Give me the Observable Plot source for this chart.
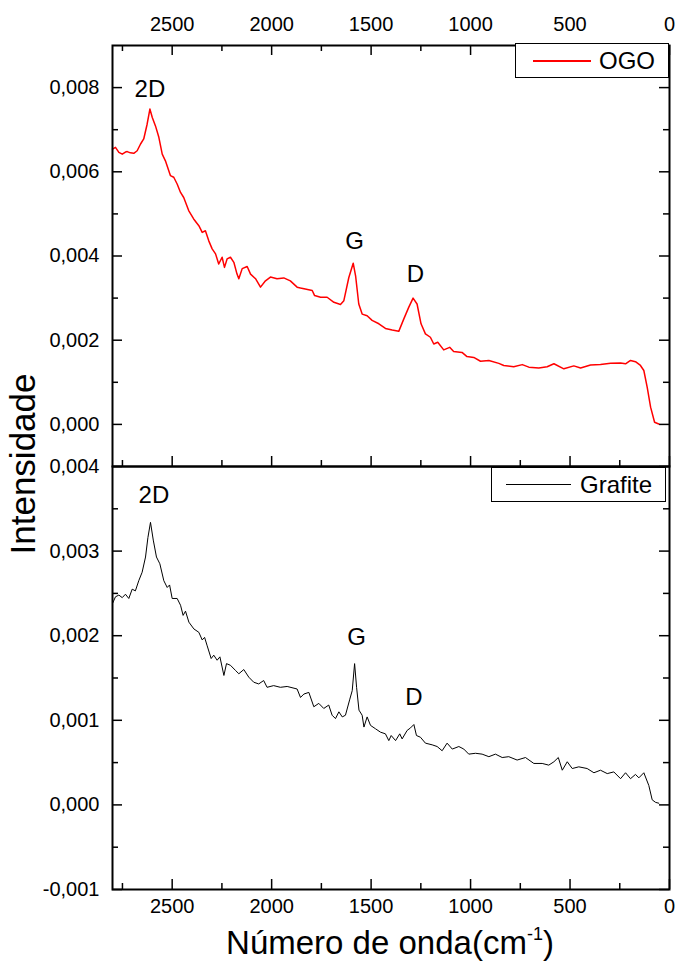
<!DOCTYPE html>
<html><head><meta charset="utf-8">
<script src="https://cdn.jsdelivr.net/npm/d3@7"></script>
<script src="https://cdn.jsdelivr.net/npm/@observablehq/plot@0.6"></script>
<style>
html,body{margin:0;padding:0;background:#fff;}
#wrap{position:relative;width:677px;height:980px;font-family:Arial,"Liberation Sans",sans-serif;color:#000;overflow:hidden;}
#wrap svg{position:absolute;left:0;overflow:visible;}
.legend{position:absolute;background:#fff;border:1px solid #000;box-sizing:border-box;}
.legend .ln{position:absolute;}
.legend .lt{position:absolute;font-size:24px;line-height:24px;white-space:nowrap;}
#xt{position:absolute;left:390px;top:926px;transform:translateX(-50%);font-size:33px;line-height:33px;white-space:nowrap;}
#xt sup{font-size:18px;line-height:0;vertical-align:14px;}
#yt{position:absolute;left:22px;top:464px;transform:translate(-50%,-50%) rotate(-90deg);font-size:35px;line-height:35px;white-space:nowrap;}
</style>
</head><body><div id="wrap"></div>
<script>
// ---- data (wavenumber cm^-1, intensity) ----
const ogoSpectrum = [
[2800,0.00654],[2785,0.00658],[2768,0.00646],[2751,0.00642],[2735,0.00647],[2726,0.00648],[2710,0.00645],[2693,0.00644],[2676,0.0065],[2659,0.00666],[2643,0.00678],[2626,0.00713],[2612,0.00749],[2600,0.00729],[2584,0.00709],[2567,0.00682],[2550,0.00642],[2534,0.00626],[2509,0.00591],[2492,0.00587],[2475,0.00571],[2458,0.00551],[2442,0.00539],[2417,0.00508],[2392,0.00488],[2366,0.00472],[2349,0.00456],[2333,0.0046],[2316,0.00436],[2299,0.00417],[2282,0.00405],[2266,0.00381],[2249,0.00397],[2237,0.00373],[2224,0.00393],[2207,0.00397],[2190,0.00385],[2174,0.00357],[2165,0.00346],[2148,0.0037],[2123,0.00375],[2106,0.00357],[2081,0.00346],[2056,0.00326],[2031,0.00341],[2006,0.0035],[1973,0.00346],[1939,0.00348],[1906,0.00341],[1872,0.00326],[1855,0.00324],[1796,0.00318],[1784,0.00306],[1754,0.00302],[1721,0.00302],[1687,0.0029],[1654,0.00285],[1637,0.00294],[1612,0.00349],[1590,0.00383],[1578,0.00353],[1562,0.00286],[1545,0.00262],[1520,0.00258],[1495,0.00247],[1461,0.00239],[1428,0.00228],[1394,0.00224],[1361,0.00221],[1336,0.0025],[1311,0.00278],[1289,0.003],[1269,0.00286],[1249,0.00239],[1227,0.00215],[1202,0.00207],[1185,0.00191],[1165,0.00195],[1135,0.00177],[1105,0.00183],[1085,0.00173],[1043,0.00171],[1018,0.00161],[984,0.00159],[950,0.0015],[908,0.00152],[858,0.00145],[833,0.0014],[783,0.00137],[740,0.00142],[707,0.00136],[657,0.00134],[615,0.00137],[581,0.00144],[531,0.00132],[481,0.00139],[447,0.00134],[397,0.00141],[347,0.00142],[296,0.00145],[246,0.00146],[221,0.00144],[196,0.00152],[171,0.00149],[146,0.0014],[129,0.00128],[112,0.00088],[95,0.00041],[75,0.00005],[54,0.00001]
];
const grafiteSpectrum = [
[2800,0.00238],[2785,0.00246],[2768,0.00248],[2751,0.00245],[2735,0.00249],[2718,0.00244],[2701,0.00255],[2685,0.00253],[2668,0.00265],[2651,0.00275],[2634,0.00293],[2622,0.00316],[2609,0.00334],[2595,0.00313],[2579,0.00293],[2562,0.00285],[2542,0.00265],[2525,0.00257],[2513,0.0026],[2500,0.00244],[2475,0.00244],[2458,0.00236],[2445,0.00224],[2433,0.00229],[2416,0.00216],[2391,0.00208],[2366,0.00204],[2349,0.00195],[2337,0.00198],[2324,0.00188],[2304,0.00173],[2291,0.00177],[2274,0.00171],[2260,0.00175],[2240,0.00153],[2227,0.00167],[2207,0.00165],[2182,0.00159],[2165,0.00155],[2140,0.0016],[2115,0.00151],[2090,0.00145],[2065,0.00143],[2040,0.00147],[2023,0.00139],[1990,0.00141],[1956,0.00139],[1922,0.0014],[1872,0.00137],[1855,0.00127],[1838,0.00131],[1813,0.00133],[1788,0.00116],[1763,0.0012],[1738,0.00114],[1713,0.00118],[1696,0.00106],[1679,0.00102],[1662,0.0011],[1645,0.00104],[1629,0.00106],[1607,0.00125],[1595,0.00135],[1583,0.00167],[1573,0.00139],[1561,0.00112],[1545,0.00106],[1536,0.00092],[1520,0.00104],[1503,0.00094],[1478,0.0009],[1453,0.00086],[1428,0.00084],[1411,0.00076],[1399,0.00082],[1377,0.00076],[1356,0.00084],[1344,0.00078],[1319,0.00088],[1302,0.00091],[1285,0.00095],[1272,0.00082],[1252,0.0008],[1227,0.00073],[1193,0.00071],[1168,0.00069],[1143,0.00064],[1118,0.00073],[1092,0.00066],[1059,0.00069],[1034,0.00066],[1009,0.0006],[975,0.00061],[942,0.0006],[908,0.00057],[875,0.0006],[841,0.00056],[808,0.00057],[766,0.00053],[724,0.00056],[682,0.00049],[640,0.00049],[607,0.00047],[581,0.00051],[559,0.00056],[539,0.00041],[514,0.00051],[489,0.00043],[456,0.00045],[414,0.00043],[380,0.00038],[347,0.00041],[313,0.00037],[280,0.00039],[246,0.00031],[221,0.00038],[196,0.00031],[171,0.00036],[154,0.00032],[129,0.00038],[104,0.00023],[87,0.00006],[70,0.00003],[54,0.00002]
];
const ogoPeaks = [{label:"2D",wave:2612,int:0.00797},{label:"G",wave:1583,int:0.00436},{label:"D",wave:1277,int:0.00356}];
const grafitePeaks = [{label:"2D",wave:2592,int:0.00366},{label:"G",wave:1573,int:0.00198},{label:"D",wave:1285,int:0.00127}];
const xMajor = [2500,2000,1500,1000,500,0];
const xMinor = [2750,2250,1750,1250,750,250];
const ogoMajor = [0,0.002,0.004,0.006,0.008];
const ogoMinor = [0.001,0.003,0.005,0.007];
const grafiteMajor = [-0.001,0,0.001,0.002,0.003,0.004];
const grafiteMinor = [-0.0005,0.0005,0.0015,0.0025,0.0035];
const seriesNames = ["OGO","Grafite"];
const seriesColors = ["#ff0000","#000000"];
const xTitle = "Número de onda(cm";
const yTitle = "Intensidade";

// ---- layout ----
const W = 677, ML = 112, MR = 8;
const FW = W - ML - MR;
const FH1 = 421, FH2 = 423;
const font = 'Arial,"Liberation Sans",sans-serif';
const fmt = d => d.toFixed(3).replace(".", ",");
const MAJ = 10, MIN = 6;

function tickMarks(yMajor, yMinor, FH, topTicks, bottomTicks) {
  const m = [];
  if (topTicks) {
    m.push(Plot.tickX(xMajor, {x: d => d, insetBottom: FH - MAJ, strokeWidth: 1.5}));
    m.push(Plot.tickX(xMinor, {x: d => d, insetBottom: FH - MIN, strokeWidth: 1.5}));
  }
  if (bottomTicks) {
    m.push(Plot.tickX(xMajor, {x: d => d, insetTop: FH - MAJ, strokeWidth: 1.5}));
    m.push(Plot.tickX(xMinor, {x: d => d, insetTop: FH - MIN, strokeWidth: 1.5}));
  }
  m.push(Plot.tickY(yMajor, {y: d => d, insetRight: FW - MAJ, strokeWidth: 1.5}));
  m.push(Plot.tickY(yMinor, {y: d => d, insetRight: FW - MIN, strokeWidth: 1.5}));
  m.push(Plot.tickY(yMajor, {y: d => d, insetLeft: FW - MAJ, strokeWidth: 1.5}));
  m.push(Plot.tickY(yMinor, {y: d => d, insetLeft: FW - MIN, strokeWidth: 1.5}));
  return m;
}

const wrap = document.getElementById("wrap");

const topPlot = Plot.plot({
  width: W, height: 45 + FH1 + 1,
  marginTop: 45, marginBottom: 1, marginLeft: ML, marginRight: MR,
  style: {fontFamily: font, fontSize: "20px", color: "#000", background: "transparent", overflow: "visible"},
  x: {domain: [2800, 0], label: null},
  y: {domain: [-0.001, 0.009], label: null},
  marks: [
    Plot.axisX(xMajor, {anchor: "top", label: null, tickSize: 0, tickPadding: 15, tickFormat: d => String(d), fontSize: 20}),
    Plot.axisY(ogoMajor, {anchor: "left", label: null, tickSize: 0, tickPadding: 13, tickFormat: fmt, fontSize: 20}),
    ...tickMarks(ogoMajor, ogoMinor, FH1, true, true),
    Plot.line(ogoSpectrum, {x: d => d[0], y: d => d[1], stroke: seriesColors[0], strokeWidth: 1.5}),
    Plot.text(ogoPeaks, {x: "wave", y: "int", text: "label", fontSize: 24, fill: "#000"}),
    Plot.frame({strokeWidth: 2})
  ]
});
topPlot.style.top = "0px";
wrap.appendChild(topPlot);

const botPlot = Plot.plot({
  width: W, height: 26 + FH2 + 30,
  marginTop: 26, marginBottom: 30, marginLeft: ML, marginRight: MR,
  style: {fontFamily: font, fontSize: "20px", color: "#000", background: "transparent", overflow: "visible"},
  x: {domain: [2800, 0], label: null},
  y: {domain: [-0.001, 0.004], label: null},
  marks: [
    Plot.axisX(xMajor, {anchor: "bottom", label: null, tickSize: 0, tickPadding: 9, tickFormat: d => String(d), fontSize: 20}),
    Plot.axisY(grafiteMajor, {anchor: "left", label: null, tickSize: 0, tickPadding: 13, tickFormat: fmt, fontSize: 20}),
    ...tickMarks(grafiteMajor, grafiteMinor, FH2, false, true),
    Plot.line(grafiteSpectrum, {x: d => d[0], y: d => d[1], stroke: seriesColors[1], strokeWidth: 1}),
    Plot.text(grafitePeaks, {x: "wave", y: "int", text: "label", fontSize: 24, fill: "#000"}),
    Plot.frame({strokeWidth: 2})
  ]
});
botPlot.style.top = "440px";
wrap.appendChild(botPlot);

// ---- legends ----
function legend(name, color, lw, box, line, textLeft) {
  const d = document.createElement("div");
  d.className = "legend";
  Object.assign(d.style, {left: box[0] + "px", top: box[1] + "px", width: box[2] + "px", height: box[3] + "px"});
  const l = document.createElement("div");
  l.className = "ln";
  Object.assign(l.style, {left: line[0] + "px", width: line[1] + "px", top: (box[3] / 2 - 2) + "px", height: lw + "px", background: color});
  const t = document.createElement("div");
  t.className = "lt";
  t.textContent = name;
  Object.assign(t.style, {left: textLeft + "px", top: (box[3] / 2 - 13) + "px"});
  d.append(l, t);
  wrap.appendChild(d);
}
legend(seriesNames[0], seriesColors[0], 2, [515, 43, 154, 35], [17, 58], 83);
legend(seriesNames[1], seriesColors[1], 1, [491, 467, 175, 35], [14, 65], 88);

// ---- axis titles ----
const xt = document.createElement("div");
xt.id = "xt";
xt.innerHTML = xTitle + "<sup>-1</sup>)";
wrap.appendChild(xt);
const yt = document.createElement("div");
yt.id = "yt";
yt.textContent = yTitle;
wrap.appendChild(yt);
</script></body></html>
